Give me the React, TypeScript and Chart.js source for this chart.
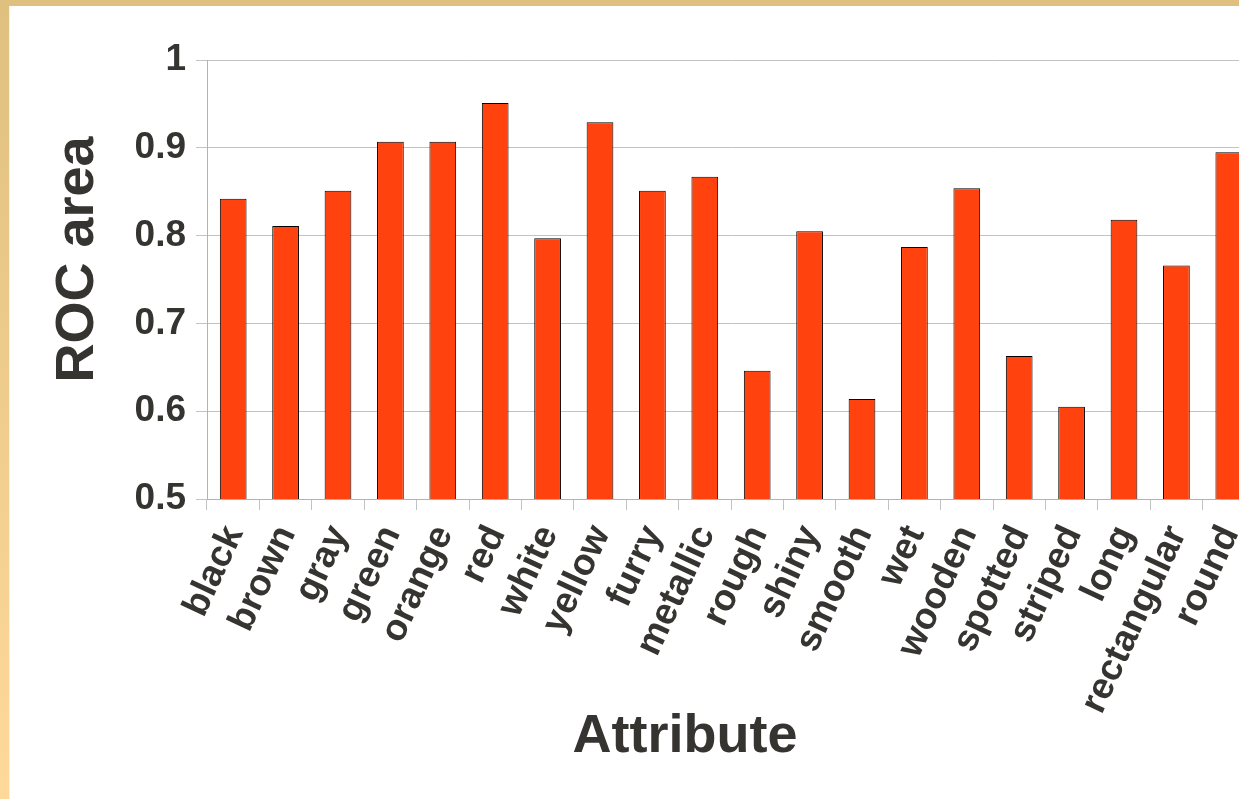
import React, { useEffect, useRef } from 'react';
import { Chart, registerables } from 'chart.js';

Chart.register(...registerables);

const attributes = [
  'black', 'brown', 'gray', 'green', 'orange', 'red', 'white', 'yellow', 'furry', 'metallic',
  'rough', 'shiny', 'smooth', 'wet', 'wooden', 'spotted', 'striped', 'long', 'rectangular', 'round',
];
const rocArea = [
  0.842, 0.811, 0.851, 0.907, 0.907, 0.951, 0.797, 0.929, 0.851, 0.867,
  0.646, 0.805, 0.614, 0.787, 0.854, 0.663, 0.605, 0.818, 0.766, 0.895,
];
const yMin = 0.5;
const yMax = 1;
const yStep = 0.1;

const xTitle = 'Attribute';
const yTitle = 'ROC area';

const FONT = "'Liberation Sans', Arial, sans-serif";
const TEXT = '#353431';
const BAR = '#ff420e';
const GRID = '#c3c3c3';

// axis titles sit off-centre in the original, so draw them ourselves
const axisTitles = {
  id: 'axisTitles',
  afterDraw(chart: Chart) {
    const { ctx, chartArea } = chart;
    ctx.save();
    ctx.fillStyle = TEXT;
    ctx.font = `bold 54px ${FONT}`;
    ctx.textAlign = 'center';
    ctx.textBaseline = 'alphabetic';
    ctx.fillText(xTitle, chartArea.left + 478, chartArea.bottom + 253);
    ctx.translate(chartArea.left - 114, (chartArea.top + chartArea.bottom) / 2 - 20);
    ctx.rotate(-Math.PI / 2);
    ctx.fillText(yTitle, 0, 0);
    ctx.restore();
  },
};

const RocChart: React.FC = () => {
  const canvasRef = useRef<HTMLCanvasElement>(null);

  useEffect(() => {
    if (!canvasRef.current) return;
    const chart = new Chart(canvasRef.current, {
      type: 'bar',
      data: {
        labels: attributes,
        datasets: [
          {
            label: yTitle,
            data: rocArea,
            backgroundColor: BAR,
            borderColor: '#000000',
            borderWidth: 1,
            barPercentage: 0.51,
            categoryPercentage: 1,
          },
        ],
      },
      options: {
        animation: false,
        responsive: true,
        maintainAspectRatio: false,
        layout: { padding: { left: 127, top: 60, right: 45, bottom: 0 } },
        plugins: {
          legend: { display: false },
          tooltip: { enabled: false },
          title: { display: false },
        },
        scales: {
          x: {
            afterFit: (scale: any) => { scale.height = 300; },
            grid: {
              offset: true,
              drawOnChartArea: false,
              drawTicks: true,
              tickLength: 11,
              color: GRID,
            },
            border: { display: true, color: '#b3b3b3' },
            ticks: {
              autoSkip: false,
              minRotation: 65,
              maxRotation: 65,
              padding: 9,
              labelOffset: 1,
              color: TEXT,
              font: { family: FONT, size: 37, weight: 'bold' },
            },
          },
          y: {
            min: yMin,
            max: yMax,
            afterFit: (scale: any) => { scale.width = 80; },
            grid: { color: GRID, tickLength: 11 },
            border: { display: true, color: '#b3b3b3' },
            ticks: {
              stepSize: yStep,
              padding: 10,
              color: TEXT,
              font: { family: FONT, size: 37, weight: 'bold' },
              callback: (v: any) => String(Math.round(Number(v) * 10) / 10),
            },
          },
        },
      },
      plugins: [axisTitles],
    });
    return () => chart.destroy();
  }, []);

  return <canvas ref={canvasRef} />;
};

export default function App() {
  return (
    <div style={{ position: 'fixed', inset: 0, overflow: 'hidden', background: '#ffffff' }}>
      <div style={{ position: 'absolute', left: 0, top: 0, width: 1300, height: 799 }}>
        <RocChart />
      </div>
      <div
        style={{
          position: 'absolute', left: 0, top: 0, width: 9, height: '100%',
          background: 'linear-gradient(#dfc07f, #ffd99a)',
          borderRight: '1px solid #fff2da',
        }}
      />
      <div style={{ position: 'absolute', left: 0, top: 0, width: '100%', height: 6, background: '#dfc07f' }} />
    </div>
  );
}
